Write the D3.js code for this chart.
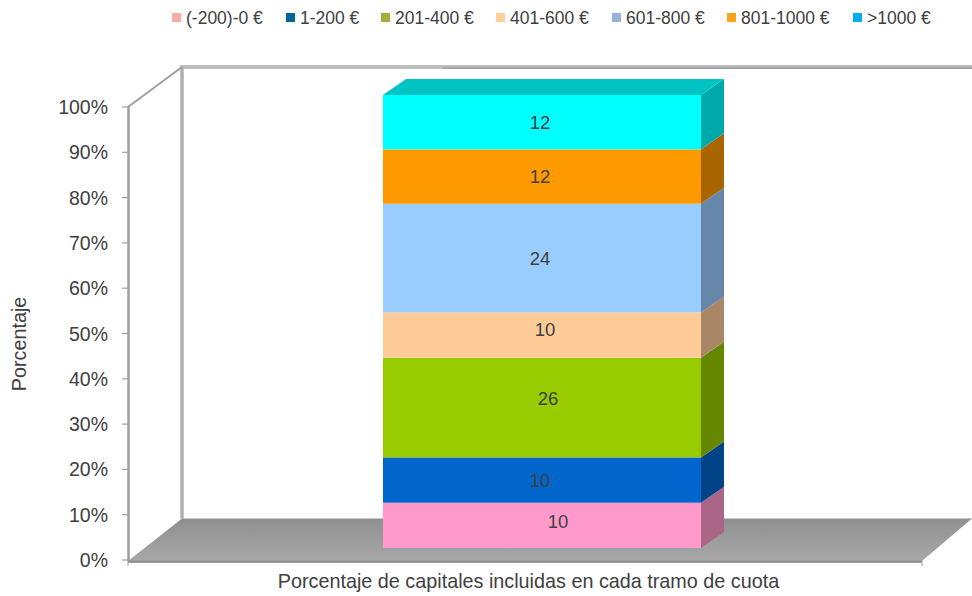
<!DOCTYPE html>
<html><head><meta charset="utf-8">
<script src="https://cdnjs.cloudflare.com/ajax/libs/d3/7.8.5/d3.min.js"></script>
<style>html,body{margin:0;padding:0;background:#fff}svg{display:block}text{font-family:"Liberation Sans",Arial,sans-serif;fill:#404040}</style>
</head><body><svg id="c" width="972" height="596"></svg>
<script>
const seriesNames=["(-200)-0 €","1-200 €","201-400 €","401-600 €","601-800 €","801-1000 €",">1000 €"];
const barHeights=[10,10,22,10,24,12,12];
const barLabels=["10","10","26","10","24","12","12"];
const labelNudgeX=[16,-2,6,3,-2,-2,-2];
const labelNudgeY=[-4,0,-9,-6,0,0,0];
const barColors=["#ff99cc","#0066cc","#99cc00","#ffcc99","#99ccff","#ff9900","#00ffff"];
const legendColors=["#ffaaaa","#006699","#a6ad3a","#ffcf9c","#95b3d7","#fca31c","#00adef"];
const legendX=[172,286,381,496,612,727,853];
const yTicks=d3.range(0,101,10);
const axisTitle="Porcentaje", xTitle="Porcentaje de capitales incluidas en cada tramo de cuota";

const svg=d3.select("#c");
const defs=svg.append("defs");
const g=defs.append("linearGradient").attr("id","fl").attr("x1",0).attr("y1",0).attr("x2",0).attr("y2",1);
g.append("stop").attr("offset",0).attr("stop-color","#8e8e8e");
g.append("stop").attr("offset",0.15).attr("stop-color","#939393");
g.append("stop").attr("offset",1).attr("stop-color","#a8a8a8");

const y=d3.scaleLinear().domain([0,100]).range([560,107]);
const x=d3.scaleLinear().domain([0,1]).range([128,922]);
const dx=54,dyTop=-40,dyFloor=-41.5;
const barX=d3.scaleBand().domain(["c"]).range([383,701]);
const barDx=23,barDy=-16,barShift=-12;
const path=p=>"M"+p.map(a=>a.join(",")).join("L")+"Z";

// back wall + side wall
svg.append("line").attr("x1",x(0)+dx-2).attr("x2",972).attr("y1",y(100)+dyTop).attr("y2",y(100)+dyTop).attr("stroke","#bebebe").attr("stroke-width",4);
svg.append("line").attr("x1",443).attr("x2",972).attr("y1",y(100)+dyTop+1).attr("y2",y(100)+dyTop+1).attr("stroke","#a3a3a3").attr("stroke-width",2);
svg.append("line").attr("x1",x(0)+dx).attr("x2",x(0)+dx).attr("y1",y(100)+dyTop).attr("y2",y(0)+dyFloor).attr("stroke","#b0b0b0").attr("stroke-width",3.5);
svg.append("line").attr("x1",x(0)).attr("x2",x(0)+dx).attr("y1",y(100)).attr("y2",y(100)+dyTop).attr("stroke","#a0a0a0").attr("stroke-width",2);
// floor
svg.append("path").attr("d",path([[x(0),y(0)+1],[x(0)+dx,y(0)+dyFloor],[972,y(0)+dyFloor],[x(1),y(0)+1]])).attr("fill","url(#fl)");
svg.append("line").attr("x1",x(0)).attr("x2",x(1)).attr("y1",y(0)+1.7).attr("y2",y(0)+1.7).attr("stroke","#8a8a8a").attr("stroke-width",2);
// front axis
svg.append("line").attr("x1",x(0)+0.5).attr("x2",x(0)+0.5).attr("y1",y(100)).attr("y2",y(0)+1).attr("stroke","#999").attr("stroke-width",2.4);
svg.append("line").attr("x1",x(0)).attr("x2",x(0)).attr("y1",y(0)).attr("y2",y(0)+6).attr("stroke","#a89a9a").attr("stroke-width",1);
const ax=svg.append("g").selectAll("g").data(yTicks).join("g");
ax.append("line").attr("x1",122).attr("x2",128).attr("y1",d=>y(d)).attr("y2",d=>y(d)).attr("stroke","#a89a9a").attr("stroke-width",1.2);
ax.append("text").attr("x",108).attr("y",d=>y(d)).attr("dy","0.36em").attr("text-anchor","end").attr("font-size",19.5).text(d=>d+"%");
svg.append("line").attr("x1",x(1)).attr("x2",x(1)).attr("y1",y(0)).attr("y2",y(0)+6).attr("stroke","#a89a9a");

// bars
const stack=d3.cumsum(barHeights);
const b0=barX("c"),b1=b0+barX.bandwidth();
const by=v=>y(v)+barShift;
const segs=barHeights.map((v,i)=>({i,lo:stack[i]-v,hi:stack[i]}));
const sg=svg.append("g").selectAll("g").data(segs).join("g");
sg.append("path").attr("d",d=>path([[b1,by(d.lo)],[b1+barDx,by(d.lo)+barDy],[b1+barDx,by(d.hi)+barDy],[b1,by(d.hi)]]))
 .attr("fill",d=>d3.rgb(barColors[d.i]).darker(1.15));
sg.append("rect").attr("x",b0).attr("width",b1-b0).attr("y",d=>by(d.hi)).attr("height",d=>by(d.lo)-by(d.hi)).attr("fill",d=>barColors[d.i]);
svg.append("path").attr("d",path([[b0,by(100)],[b0+barDx,by(100)+barDy],[b1+barDx,by(100)+barDy],[b1,by(100)]])).attr("fill","#00c4c4");
sg.append("text").attr("x",d=>(b0+b1)/2+labelNudgeX[d.i]).attr("y",d=>(by(d.lo)+by(d.hi))/2+labelNudgeY[d.i]).attr("dy","0.36em").attr("text-anchor","middle").attr("font-size",18.5).text(d=>barLabels[d.i]);

// titles
svg.append("text").attr("x",528.5).attr("y",588).attr("text-anchor","middle").attr("font-size",19.8).text(xTitle);
svg.append("text").attr("transform","translate(26,344) rotate(-90)").attr("text-anchor","middle").attr("font-size",19.8).text(axisTitle);

// legend
const lg=svg.append("g").selectAll("g").data(seriesNames).join("g").attr("transform",(d,i)=>`translate(${legendX[i]},13)`);
lg.append("rect").attr("width",9).attr("height",9).attr("fill",(d,i)=>legendColors[i]);
lg.append("text").attr("x",14).attr("y",4.5).attr("dy","0.36em").attr("font-size",17.5).text(d=>d);
</script></body></html>
